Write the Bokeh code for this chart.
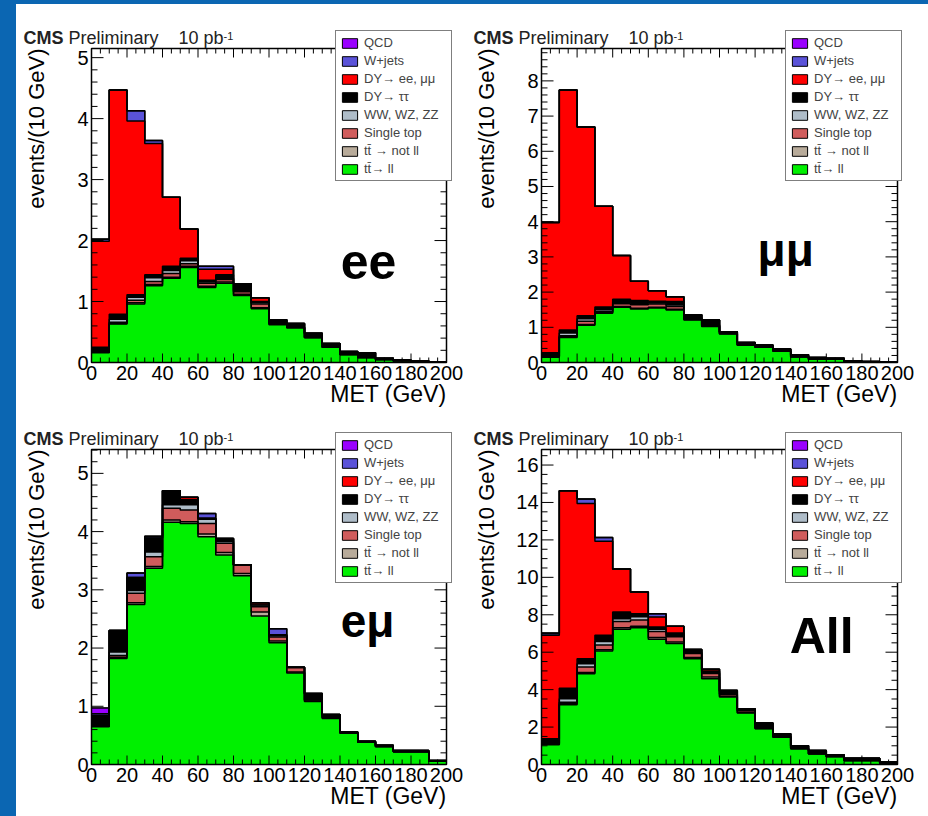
import math
from bokeh.plotting import figure
from bokeh.models import Range1d, Label, Legend, LegendItem, Spacer
from bokeh.layouts import row, column
from bokeh.embed import file_html
from bokeh.resources import INLINE
from bokeh.core.properties import value

# ---------------- data ----------------
met_edges = [0, 10, 20, 30, 40, 50, 60, 70, 80, 90, 100,
             110, 120, 130, 140, 150, 160, 170, 180, 190, 200]
x_ticks = [0, 20, 40, 60, 80, 100, 120, 140, 160, 180, 200]

legend_labels = ["QCD", "W+jets", "DY\u2192 ee, \u03bc\u03bc", "DY\u2192 \u03c4\u03c4",
                 "WW, WZ, ZZ", "Single top", "tt\u0304 \u2192 not ll", "tt\u0304\u2192 ll"]
legend_colors = ["#9a00ff", "#5a52d8", "#ff0000", "#000000",
                 "#aebcc8", "#d05c5c", "#b8ab9a", "#00f000"]

# ee channel
ee_ttll    = [0.16, 0.63, 0.96, 1.26, 1.38, 1.56, 1.23, 1.30, 1.10, 0.88, 0.62, 0.57, 0.41, 0.25, 0.13, 0.08, 0.05, 0.03, 0.02, 0.01]
ee_ttother = [0.01, 0.01, 0.02, 0.02, 0.02, 0.02, 0.02, 0.02, 0.02, 0.02, 0.01, 0.00, 0.00, 0.00, 0.00, 0.00, 0.00, 0.00, 0.00, 0.00]
ee_stop    = [0.01, 0.02, 0.04, 0.05, 0.06, 0.04, 0.05, 0.04, 0.04, 0.06, 0.01, 0.01, 0.00, 0.00, 0.00, 0.00, 0.00, 0.00, 0.00, 0.00]
ee_vv      = [0.01, 0.05, 0.05, 0.06, 0.05, 0.05, 0.02, 0.02, 0.02, 0.02, 0.01, 0.00, 0.00, 0.00, 0.00, 0.00, 0.00, 0.00, 0.00, 0.00]
ee_dytt    = [0.06, 0.08, 0.04, 0.05, 0.07, 0.04, 0.03, 0.06, 0.11, 0.02, 0.05, 0.06, 0.07, 0.06, 0.05, 0.08, 0.02, 0.01, 0.01, 0.00]
ee_dyll    = [1.74, 3.68, 2.85, 2.15, 1.13, 0.48, 0.18, 0.09, 0.00, 0.06, 0.00, 0.00, 0.00, 0.00, 0.00, 0.00, 0.00, 0.00, 0.00, 0.00]
ee_wjets   = [0.03, 0.00, 0.17, 0.05, 0.00, 0.00, 0.05, 0.05, 0.00, 0.00, 0.00, 0.00, 0.00, 0.00, 0.00, 0.00, 0.00, 0.00, 0.00, 0.00]
ee_qcd     = [0.00] * 20

# mumu channel
mm_ttll    = [0.15, 0.71, 1.06, 1.40, 1.57, 1.52, 1.55, 1.49, 1.21, 1.02, 0.81, 0.50, 0.43, 0.33, 0.16, 0.09, 0.09, 0.03, 0.02, 0.01]
mm_ttother = [0.01, 0.02, 0.02, 0.02, 0.02, 0.02, 0.02, 0.02, 0.01, 0.01, 0.01, 0.00, 0.00, 0.00, 0.00, 0.00, 0.00, 0.00, 0.00, 0.00]
mm_stop    = [0.01, 0.03, 0.09, 0.03, 0.08, 0.10, 0.09, 0.08, 0.03, 0.03, 0.01, 0.00, 0.00, 0.00, 0.00, 0.00, 0.00, 0.00, 0.00, 0.00]
mm_vv      = [0.01, 0.08, 0.07, 0.05, 0.04, 0.04, 0.03, 0.04, 0.02, 0.01, 0.01, 0.00, 0.00, 0.00, 0.00, 0.00, 0.00, 0.00, 0.00, 0.00]
mm_dytt    = [0.10, 0.08, 0.09, 0.08, 0.09, 0.08, 0.05, 0.10, 0.09, 0.14, 0.03, 0.07, 0.07, 0.05, 0.06, 0.05, 0.03, 0.02, 0.01, 0.01]
mm_dyll    = [3.70, 6.82, 5.36, 2.86, 1.24, 0.55, 0.30, 0.14, 0.00, 0.00, 0.00, 0.00, 0.00, 0.00, 0.00, 0.00, 0.00, 0.00, 0.00, 0.00]
mm_wjets   = [0.00] * 20
mm_qcd     = [0.00] * 20

# emu channel
em_ttll    = [0.65, 1.82, 2.75, 3.37, 4.16, 4.14, 3.91, 3.60, 3.24, 2.55, 2.09, 1.57, 1.08, 0.79, 0.54, 0.38, 0.31, 0.22, 0.22, 0.06]
em_ttother = [0.01, 0.02, 0.03, 0.03, 0.04, 0.03, 0.05, 0.04, 0.04, 0.07, 0.03, 0.02, 0.01, 0.01, 0.00, 0.00, 0.00, 0.00, 0.00, 0.00]
em_stop    = [0.01, 0.03, 0.16, 0.17, 0.20, 0.20, 0.18, 0.16, 0.14, 0.09, 0.07, 0.07, 0.02, 0.01, 0.00, 0.00, 0.00, 0.00, 0.00, 0.00]
em_vv      = [0.01, 0.06, 0.05, 0.08, 0.06, 0.09, 0.07, 0.03, 0.01, 0.03, 0.02, 0.01, 0.00, 0.00, 0.00, 0.00, 0.00, 0.00, 0.00, 0.00]
em_dytt    = [0.16, 0.37, 0.22, 0.24, 0.24, 0.09, 0.02, 0.05, 0.00, 0.00, 0.02, 0.00, 0.11, 0.05, 0.02, 0.02, 0.02, 0.02, 0.02, 0.01]
em_dyll    = [0.00, 0.00, 0.00, 0.00, 0.00, 0.04, 0.00, 0.00, 0.00, 0.04, 0.00, 0.00, 0.00, 0.00, 0.00, 0.00, 0.00, 0.00, 0.00, 0.00]
em_wjets   = [0.03, 0.00, 0.08, 0.03, 0.00, 0.00, 0.08, 0.00, 0.00, 0.00, 0.10, 0.00, 0.00, 0.00, 0.00, 0.00, 0.00, 0.00, 0.00, 0.00]
em_qcd     = [0.10, 0.00, 0.00, 0.00, 0.00, 0.00, 0.00, 0.00, 0.00, 0.00, 0.00, 0.00, 0.00, 0.00, 0.00, 0.00, 0.00, 0.00, 0.00, 0.00]

# all channels
all_ttll    = [1.05, 3.19, 4.85, 6.06, 7.22, 7.31, 6.69, 6.46, 5.65, 4.58, 3.60, 2.75, 1.91, 1.46, 0.84, 0.57, 0.43, 0.21, 0.21, 0.07]
all_ttother = [0.03, 0.05, 0.07, 0.07, 0.08, 0.07, 0.09, 0.08, 0.07, 0.10, 0.05, 0.03, 0.02, 0.01, 0.01, 0.00, 0.00, 0.00, 0.00, 0.00]
all_stop    = [0.03, 0.08, 0.29, 0.25, 0.34, 0.34, 0.32, 0.28, 0.21, 0.18, 0.09, 0.09, 0.03, 0.02, 0.01, 0.01, 0.00, 0.00, 0.00, 0.00]
all_vv      = [0.03, 0.19, 0.17, 0.19, 0.15, 0.18, 0.12, 0.09, 0.05, 0.06, 0.04, 0.02, 0.01, 0.01, 0.00, 0.00, 0.00, 0.00, 0.00, 0.00]
all_dytt    = [0.23, 0.57, 0.27, 0.33, 0.36, 0.16, 0.13, 0.12, 0.17, 0.07, 0.14, 0.09, 0.25, 0.14, 0.14, 0.17, 0.09, 0.13, 0.13, 0.08]
all_dyll    = [5.53, 10.55, 8.30, 5.03, 2.29, 1.16, 0.53, 0.35, 0.00, 0.10, 0.00, 0.00, 0.00, 0.00, 0.00, 0.00, 0.00, 0.00, 0.00, 0.00]
all_wjets   = [0.08, 0.00, 0.23, 0.20, 0.00, 0.00, 0.18, 0.00, 0.00, 0.00, 0.05, 0.00, 0.00, 0.00, 0.00, 0.00, 0.00, 0.00, 0.00, 0.00]
all_qcd     = [0.05, 0.00, 0.00, 0.00, 0.00, 0.00, 0.00, 0.00, 0.00, 0.00, 0.00, 0.00, 0.00, 0.00, 0.00, 0.00, 0.00, 0.00, 0.00, 0.00]

FONT = "Liberation Sans"
BLUE = "#0b66b2"
FIG_W, FIG_H = 456, 406


def make_panel(comps, ymax, yint, yminor, box, tag, met_bottom):
    # box = (left px, box width px, top px, box height px) of the histogram frame in the figure
    L, fw, T, fh = box
    Bp = FIG_H - T - fh                  # px below the frame
    sx = 200.0 / fw
    sy = ymax / fh
    p = figure(width=FIG_W, height=FIG_H,
               x_range=Range1d(-L * sx, 200 + (FIG_W - L - fw) * sx),
               y_range=Range1d(-Bp * sy, ymax + T * sy),
               x_axis_type=None, y_axis_type=None,
               output_backend="svg", toolbar_location=None, min_border=0)
    p.background_fill_color = "white"
    p.border_fill_color = "white"
    p.outline_line_color = None
    p.grid.visible = False

    colors_bottom_up = legend_colors[::-1]
    cum = [0.0] * 20
    layers = []
    for comp in comps:
        lower = list(cum)
        cum = [a + b for a, b in zip(cum, comp)]
        layers.append((lower, list(cum)))

    # swatch renderers for the legend (first bin of each sample, hidden under the fills)
    swatch = {}
    for (lower, upper), col in zip(layers, colors_bottom_up):
        swatch[col] = p.quad(left=[met_edges[0]], right=[met_edges[1]], bottom=[lower[0]],
                             top=[upper[0]], fill_color=col, line_color="black", line_width=1)
    for (lower, upper), col in zip(layers, colors_bottom_up):
        p.varea_step(x=met_edges, y1=lower + [lower[-1]], y2=upper + [upper[-1]],
                     step_mode="after", fill_color=col)
    for lower, upper in layers:
        p.step(x=met_edges, y=upper + [upper[-1]], mode="after",
               line_color="black", line_width=1.5)

    # ---- axes drawn inside the canvas (ROOT style: ticks on all 4 sides, inward) ----
    x_minor = [v for v in range(0, 201, 5) if v not in x_ticks]
    n_y = int(ymax // yint) + 1
    y_major = [i * yint for i in range(n_y)]
    step_minor = yint / yminor
    y_minor = [k * step_minor for k in range(int(ymax / step_minor) + 1)
               if abs((k * step_minor) / yint - round((k * step_minor) / yint)) > 1e-6]

    tl = dict(line_color="black", line_width=1)
    for xs, ln in ((x_ticks, 9), (x_minor, 5)):
        p.segment(x0=xs, y0=[0] * len(xs), x1=xs, y1=[ln * sy] * len(xs), **tl)
        p.segment(x0=xs, y0=[ymax] * len(xs), x1=xs, y1=[ymax - ln * sy] * len(xs), **tl)
    for ys, ln in ((y_major, 12), (y_minor, 6)):
        p.segment(x0=[0] * len(ys), y0=ys, x1=[ln * sx] * len(ys), y1=ys, **tl)
        p.segment(x0=[200] * len(ys), y0=ys, x1=[200 - ln * sx] * len(ys), y1=ys, **tl)
    # frame box
    p.quad(left=[0], right=[200], bottom=[0], top=[ymax], fill_color=None,
           line_color="black", line_width=1.5)

    # tick labels
    p.text(x=x_ticks, y=[0] * len(x_ticks), text=[str(v) for v in x_ticks],
           text_align="center", text_baseline="top", y_offset=3,
           text_font=value(FONT), text_font_size="20px", text_color="black")
    p.text(x=[0] * len(y_major), y=y_major, text=[str(v) for v in y_major],
           text_align="right", text_baseline="middle", x_offset=-3,
           text_font=value(FONT), text_font_size="20px", text_color="black")

    # legend
    items = [LegendItem(label=lab, renderers=[swatch[col]])
             for lab, col in zip(legend_labels, legend_colors)]
    leg = Legend(items=items, location=(L + 244, Bp + 181), margin=0, padding=4, spacing=3,
                 label_height=13, glyph_height=12, glyph_width=19, label_standoff=5,
                 label_width=83, label_text_font=FONT, label_text_font_size="13px",
                 border_line_color="black", border_line_width=1.5,
                 background_fill_color="white", background_fill_alpha=1.0)
    p.add_layout(leg)

    # header text
    ty = Bp + fh + 1
    hdr = dict(x_units="screen", y_units="screen", text_font=FONT, text_color="#222222",
               text_baseline="bottom")
    p.add_layout(Label(x=L - 68, y=ty, text="CMS", text_font_style="bold",
                       text_font_size="18px", **hdr))
    p.add_layout(Label(x=L - 23, y=ty, text="Preliminary", text_font_size="18px", **hdr))
    p.add_layout(Label(x=L + 87, y=ty, text="10 pb", text_font_size="18px", **hdr))
    p.add_layout(Label(x=L + 132, y=ty + 8, text="-1", text_font_size="11px", **hdr))

    # axis titles
    p.add_layout(Label(x=L - 43, y=Bp + fh, x_units="screen", y_units="screen",
                       text="events/(10 GeV)", angle=math.pi / 2, text_align="right",
                       text_baseline="bottom", text_font=FONT, text_font_size="22px",
                       text_color="black"))
    p.add_layout(Label(x=L + fw, y=met_bottom, x_units="screen", y_units="screen",
                       text="MET (GeV)", text_align="right", text_baseline="bottom",
                       text_font=FONT, text_font_size="23px", text_color="black"))

    # channel tag (anchor = bottom of the text box)
    txt, tx, tyy, size = tag
    p.add_layout(Label(x=tx, y=tyy, text=txt, text_font=FONT, text_font_style="bold",
                       text_font_size=size, text_color="black", text_baseline="bottom"))
    return p


p_ee = make_panel([ee_ttll, ee_ttother, ee_stop, ee_vv, ee_dytt, ee_dyll, ee_wjets, ee_qcd],
                  5.15, 1, 5, (75, 355, 44, 314), ("ee", 140.4, 1.365, "50px"), 4)
p_mm = make_panel([mm_ttll, mm_ttother, mm_stop, mm_vv, mm_dytt, mm_dyll, mm_wjets, mm_qcd],
                  8.92, 1, 5, (69, 356, 44, 314), ("\u03bc\u03bc", 121.4, 2.45, "46px"), 4)
p_em = make_panel([em_ttll, em_ttother, em_stop, em_vv, em_dytt, em_dyll, em_wjets, em_qcd],
                  5.41, 1, 5, (75, 355, 39, 315), ("e\u03bc", 140.4, 2.02, "46px"), 8)
p_all = make_panel([all_ttll, all_ttother, all_stop, all_vv, all_dytt, all_dyll, all_wjets, all_qcd],
                   16.83, 2, 4, (69, 356, 39, 315), ("All", 139.4, 5.37, "50px"), 8)

bg = {"background-color": BLUE}
grid = column(row(p_ee, p_mm, spacing=0), row(p_em, p_all, spacing=0), spacing=0)
page = column(Spacer(width=928, height=4, styles=bg),
              row(Spacer(width=16, height=812, styles=bg), grid, spacing=0),
              spacing=0)

open("out.html", "w").write(file_html(page, INLINE))
